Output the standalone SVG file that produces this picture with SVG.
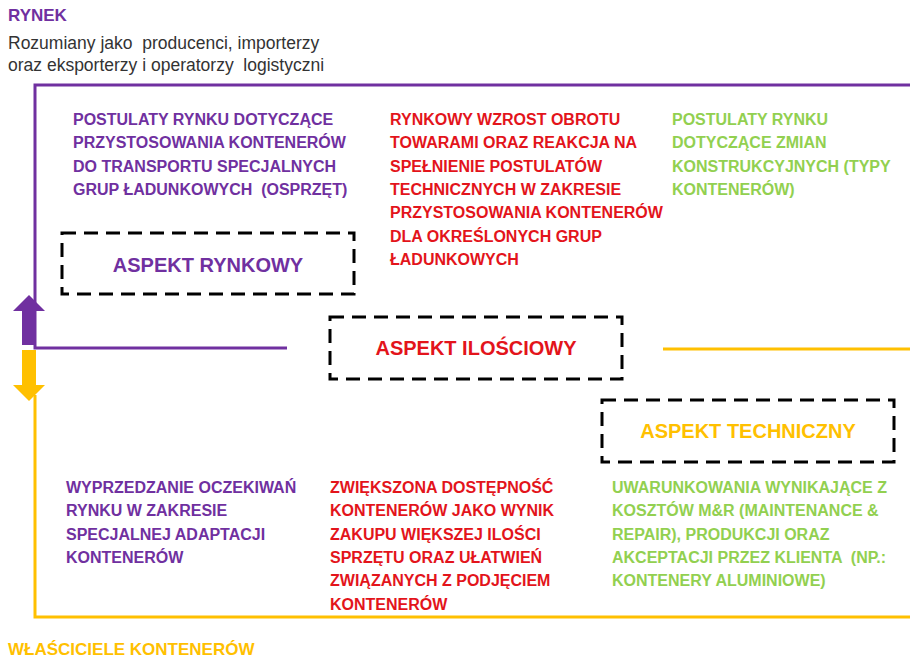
<svg xmlns="http://www.w3.org/2000/svg" width="910" height="659" viewBox="0 0 910 659" xml:space="preserve">
<style>
text{font-family:"Liberation Sans",Arial,sans-serif;white-space:pre}
.b{font-weight:bold;font-size:16px}
.asp{font-weight:bold;font-size:20px;text-anchor:middle}
.pu{fill:#7030A0}
.rd{fill:#E3141B}
.gr{fill:#92D050}
.ye{fill:#FFC000}
.box{fill:none;stroke:#000;stroke-width:3;stroke-dasharray:14 8}
.lp{fill:none;stroke:#7030A0;stroke-width:3}
.ly{fill:none;stroke:#FFC000;stroke-width:3}
</style>
<rect width="910" height="659" fill="#fff"/>
<g id="connectors">
<path class="lp" d="M910,85 H35 V348 H287"/>
<path class="ly" d="M663,349 H910"/>
<path class="ly" d="M35,395 V617 H910"/>
<polygon fill="#7030A0" points="29,295 45,311 36,311 36,345 22,345 22,311 13,311"/>
<polygon fill="#FFC000" points="22,350 36,350 36,385 45,385 29,401 13,385 22,385"/>
</g>
<g id="rynek">
<text x="8" y="21" class="pu" font-weight="bold" font-size="17">RYNEK</text>
<text x="8" y="49" fill="#333" font-size="17.5">Rozumiany jako  producenci, importerzy</text>
<text x="8" y="71" fill="#333" font-size="17.5">oraz eksporterzy i operatorzy  logistyczni</text>
</g>
<g id="postulaty-osprzet">
<text class="b pu" x="73" y="125">POSTULATY RYNKU DOTYCZĄCE</text>
<text class="b pu" x="73" y="148.3">PRZYSTOSOWANIA KONTENERÓW</text>
<text class="b pu" x="73" y="171.6">DO TRANSPORTU SPECJALNYCH</text>
<text class="b pu" x="73" y="195">GRUP ŁADUNKOWYCH  (OSPRZĘT)</text>
</g>
<g id="wzrost-obrotu">
<text class="b rd" x="390" y="125">RYNKOWY WZROST OBROTU</text>
<text class="b rd" x="390" y="148.3">TOWARAMI ORAZ REAKCJA NA</text>
<text class="b rd" x="390" y="171.6">SPEŁNIENIE POSTULATÓW</text>
<text class="b rd" x="390" y="195">TECHNICZNYCH W ZAKRESIE</text>
<text class="b rd" x="390" y="218.2">PRZYSTOSOWANIA KONTENERÓW</text>
<text class="b rd" x="390" y="241.5">DLA OKREŚLONYCH GRUP</text>
<text class="b rd" x="390" y="264.8">ŁADUNKOWYCH</text>
</g>
<g id="postulaty-typy">
<text class="b gr" x="672" y="125">POSTULATY RYNKU</text>
<text class="b gr" x="672" y="148.3">DOTYCZĄCE ZMIAN</text>
<text class="b gr" x="672" y="171.6">KONSTRUKCYJNYCH (TYPY</text>
<text class="b gr" x="672" y="195">KONTENERÓW)</text>
</g>
<g id="aspekt-rynkowy">
<rect class="box" x="62" y="233" width="292" height="61"/>
<text class="asp pu" x="208" y="272">ASPEKT RYNKOWY</text>
</g>
<g id="aspekt-ilosciowy">
<rect class="box" x="330" y="317" width="292" height="62"/>
<text class="asp rd" x="476" y="355">ASPEKT ILOŚCIOWY</text>
</g>
<g id="aspekt-techniczny">
<rect class="box" x="602" y="400" width="292" height="62"/>
<text class="asp ye" x="748" y="438">ASPEKT TECHNICZNY</text>
</g>
<g id="wyprzedzanie">
<text class="b pu" x="66" y="493">WYPRZEDZANIE OCZEKIWAŃ</text>
<text class="b pu" x="66" y="516.3">RYNKU W ZAKRESIE</text>
<text class="b pu" x="66" y="539.6">SPECJALNEJ ADAPTACJI</text>
<text class="b pu" x="66" y="563">KONTENERÓW</text>
</g>
<g id="zwiekszona-dostepnosc">
<text class="b rd" x="330" y="493">ZWIĘKSZONA DOSTĘPNOŚĆ</text>
<text class="b rd" x="330" y="516.3">KONTENERÓW JAKO WYNIK</text>
<text class="b rd" x="330" y="539.6">ZAKUPU WIĘKSZEJ ILOŚCI</text>
<text class="b rd" x="330" y="563">SPRZĘTU ORAZ UŁATWIEŃ</text>
<text class="b rd" x="330" y="586.2">ZWIĄZANYCH Z PODJĘCIEM</text>
<text class="b rd" x="330" y="609.5">KONTENERÓW</text>
</g>
<g id="uwarunkowania">
<text class="b gr" x="612" y="493">UWARUNKOWANIA WYNIKAJĄCE Z</text>
<text class="b gr" x="612" y="516.3">KOSZTÓW M&amp;R (MAINTENANCE &amp;</text>
<text class="b gr" x="612" y="539.6">REPAIR), PRODUKCJI ORAZ</text>
<text class="b gr" x="612" y="563">AKCEPTACJI PRZEZ KLIENTA  (NP.:</text>
<text class="b gr" x="612" y="586.2">KONTENERY ALUMINIOWE)</text>
</g>
<g id="wlasciciele">
<text x="8" y="655" class="ye" font-weight="bold" font-size="17">WŁAŚCICIELE KONTENERÓW</text>
</g>
</svg>
